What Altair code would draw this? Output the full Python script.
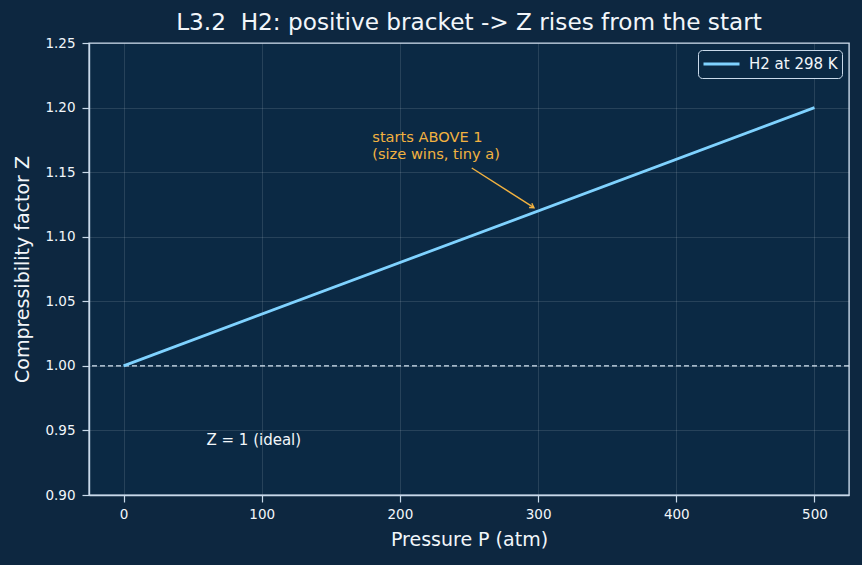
import altair as alt
import pandas as pd

# data
pressure = [0, 500]
z_values = [1.0, 1.2]
series_name = ["H2 at 298 K", "H2 at 298 K"]

ideal_z = [1.0]
ideal_label = ["Z = 1 (ideal)"]
ideal_label_x = [60]
ideal_label_y = [0.939]

ann_lines = ["starts ABOVE 1", "(size wins, tiny a)"]
ann_text_x = [180, 180]
ann_text_y = [1.1735, 1.16]
arrow_from = [252, 1.1532]
arrow_to = [297, 1.1225]

x_ticks = [0, 100, 200, 300, 400, 500]
y_ticks = [0.90, 0.95, 1.00, 1.05, 1.10, 1.15, 1.20, 1.25]

FONT = "DejaVu Sans"
TXT = "#f2f6fa"
AX = "#c9d9ea"
ORANGE = "#f2b240"
LINE = "#7fd2ff"

xs = alt.Scale(domain=[-25, 525], nice=False, zero=False)
ys = alt.Scale(domain=[0.90, 1.25], nice=False, zero=False)

df = pd.DataFrame({"P": pressure, "Z": z_values, "s": series_name})

line = alt.Chart(df).mark_line(strokeWidth=2.8).encode(
    x=alt.X("P:Q", scale=xs, title="Pressure P (atm)",
            axis=alt.Axis(values=x_ticks, format="d", labelPadding=5, titlePadding=10)),
    y=alt.Y("Z:Q", scale=ys, title="Compressibility factor Z",
            axis=alt.Axis(values=y_ticks, format=".2f", labelPadding=7, titlePadding=12)),
    color=alt.Color("s:N", scale=alt.Scale(range=[LINE]),
                    legend=alt.Legend(title=None, orient="top-right",
                                      symbolType="stroke", symbolStrokeWidth=3,
                                      symbolSize=1296, labelFontSize=15,
                                      labelOffset=8, clipHeight=20,
                                      labelColor=TXT, labelFont=FONT,
                                      strokeColor=AX, fillColor="#0b2944",
                                      padding=4, cornerRadius=4,
                                      offset=7)),
)

hline = alt.Chart(pd.DataFrame({"z": ideal_z})).mark_rule(
    color="#d8e6f3", strokeDash=[5, 3], strokeWidth=1.3
).encode(y=alt.Y("z:Q", scale=ys))

ideal_txt = alt.Chart(pd.DataFrame({"x": ideal_label_x, "y": ideal_label_y, "t": ideal_label})).mark_text(
    align="left", baseline="alphabetic", font=FONT, fontSize=15, color=TXT
).encode(x=alt.X("x:Q", scale=xs), y=alt.Y("y:Q", scale=ys), text="t:N")

ann_txt = alt.Chart(pd.DataFrame({"x": ann_text_x, "y": ann_text_y, "t": ann_lines})).mark_text(
    align="left", baseline="alphabetic", font=FONT, fontSize=14.6, color=ORANGE
).encode(x=alt.X("x:Q", scale=xs), y=alt.Y("y:Q", scale=ys), text="t:N")

arrow_df = pd.DataFrame({"x": [arrow_from[0]], "y": [arrow_from[1]],
                         "x2": [arrow_to[0]], "y2": [arrow_to[1]]})
arrow = alt.Chart(arrow_df).mark_rule(color=ORANGE, strokeWidth=1.4).encode(
    x=alt.X("x:Q", scale=xs), y=alt.Y("y:Q", scale=ys), x2="x2:Q", y2="y2:Q")

head = alt.Chart(pd.DataFrame({"x": [arrow_to[0]], "y": [arrow_to[1]]})).mark_point(
    shape="M-1,-0.6L0,0L-1,0.6", filled=False, stroke=ORANGE, strokeWidth=1.4,
    size=70, angle=33, opacity=1
).encode(x=alt.X("x:Q", scale=xs), y=alt.Y("y:Q", scale=ys))

chart = alt.layer(hline, line, ideal_txt, arrow, head, ann_txt).properties(
    width=760, height=452,
    background="#0d2740",
    padding={"left": 89, "top": 43, "right": 13, "bottom": 70},
    autosize=alt.AutoSizeParams(type="none"),
    title=alt.Title("L3.2\u00a0 H2: positive bracket -> Z rises from the start",
                    font=FONT, fontSize=23.2, fontWeight="normal", color=TXT,
                    anchor="middle", offset=1),
).configure_view(
    fill="#0b2944", stroke=AX, strokeWidth=1.4
).configure_axis(
    domainColor=AX, tickColor=AX, domainWidth=1.4, tickWidth=1.2, tickSize=7,
    labelColor=TXT, labelFont=FONT, labelFontSize=13.5,
    titleColor=TXT, titleFont=FONT, titleFontSize=19, titleFontWeight="normal",
    gridColor="#ffffff", gridOpacity=0.15, gridWidth=0.8,
)

chart.save("out.html", embed_options={"renderer": "svg", "actions": False})
